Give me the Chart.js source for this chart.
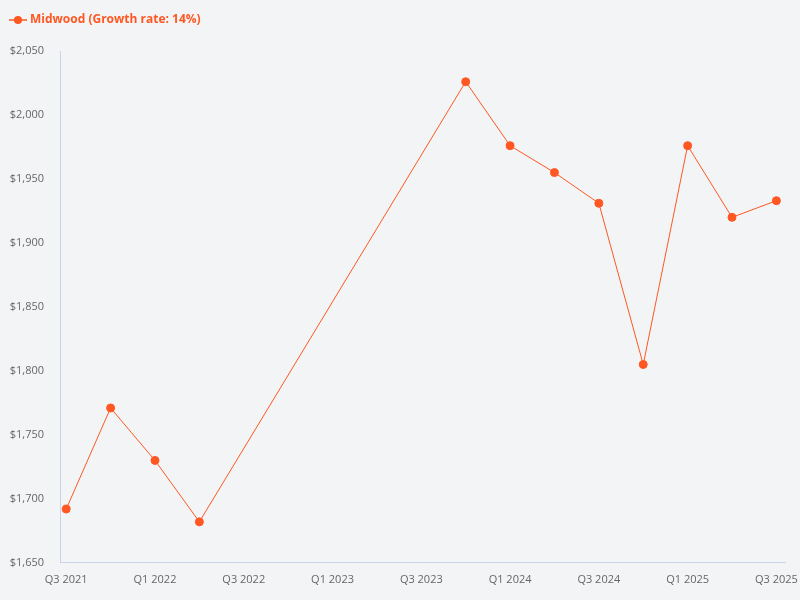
<!DOCTYPE html>
<html>
<head>
<meta charset="utf-8">
<script src="https://cdn.jsdelivr.net/npm/chart.js@4"></script>
<style>
    html, body { margin: 0; padding: 0; background: #f3f4f6; }
    #wrap { width: 800px; height: 600px; }
</style>
</head>
<body>
<div id="wrap"><canvas id="growth-chart"></canvas></div>
<script>
// Quarter labels for the whole span (x axis runs over these)
const quarters = [
    'Q3 2021', 'Q4 2021', 'Q1 2022', 'Q2 2022', 'Q3 2022', 'Q4 2022',
    'Q1 2023', 'Q2 2023', 'Q3 2023', 'Q4 2023', 'Q1 2024', 'Q2 2024',
    'Q3 2024', 'Q4 2024', 'Q1 2025', 'Q2 2025', 'Q3 2025'
];

// Quarters that actually have a value, and the values
const dataQuarters = [
    'Q3 2021', 'Q4 2021', 'Q1 2022', 'Q2 2022', 'Q4 2023', 'Q1 2024',
    'Q2 2024', 'Q3 2024', 'Q4 2024', 'Q1 2025', 'Q2 2025', 'Q3 2025'
];
const midwoodValues = [1692, 1771, 1730, 1682, 2026, 1976, 1955, 1931, 1805, 1976, 1920, 1933];

const seriesLabel = 'Midwood (Growth rate: 14%)';
const lineColor = '#ff5722';

// Legend marker: a short line with a dot through it
function makeLegendMarker() {
    const c = document.createElement('canvas');
    c.width = 18;
    c.height = 10;
    const g = c.getContext('2d');
    g.strokeStyle = lineColor;
    g.lineWidth = 1.5;
    g.beginPath();
    g.moveTo(0, 5);
    g.lineTo(18, 5);
    g.stroke();
    g.fillStyle = lineColor;
    g.beginPath();
    g.arc(9, 5, 4, 0, Math.PI * 2);
    g.fill();
    return c;
}

// Extra room under the legend
const legendGap = {
    id: 'legendGap',
    beforeInit(chart) {
        const fit = chart.legend.fit;
        chart.legend.fit = function () {
            fit.call(this);
            this.height += 15;
        };
    }
};

const points = dataQuarters.map((q, i) => ({ x: quarters.indexOf(q), y: midwoodValues[i] }));

const ctx = document.getElementById('growth-chart').getContext('2d');
const marker = makeLegendMarker();

new Chart(ctx, {
    type: 'line',
    data: {
        datasets: [{
            label: seriesLabel,
            data: points,
            borderColor: lineColor,
            backgroundColor: lineColor,
            borderWidth: 1,
            pointRadius: 4,
            pointHoverRadius: 5,
            tension: 0
        }]
    },
    options: {
        responsive: true,
        maintainAspectRatio: false,
        animation: false,
        layout: { padding: { left: 0, right: 14, top: 2, bottom: 12 } },
        plugins: {
            legend: {
                position: 'top',
                align: 'start',
                labels: {
                    usePointStyle: true,
                    color: lineColor,
                    font: { family: 'Open Sans', size: 12, weight: 'bold' },
                    padding: 12,
                    generateLabels: (chart) => chart.data.datasets.map((ds, i) => ({
                        text: ds.label,
                        fontColor: lineColor,
                        pointStyle: marker,
                        datasetIndex: i,
                        hidden: false,
                        lineWidth: 0
                    }))
                }
            },
            tooltip: { enabled: false }
        },
        scales: {
            x: {
                type: 'linear',
                min: -0.14,
                max: 16.2,
                grid: { display: false },
                border: { color: '#c9d5e6', width: 1 },
                afterBuildTicks: (axis) => {
                    axis.ticks = quarters.map((q, i) => ({ value: i })).filter(t => t.value % 2 === 0);
                },
                ticks: {
                    color: '#666',
                    font: { family: 'Open Sans', size: 11 },
                    maxRotation: 0,
                    autoSkip: false,
                    padding: 2,
                    callback: (value) => quarters[value]
                }
            },
            y: {
                min: 1650,
                max: 2050,
                grid: { display: false },
                border: { color: '#c9d5e6', width: 1 },
                afterFit: (axis) => { axis.width = 60; },
                ticks: {
                    stepSize: 50,
                    color: '#666',
                    font: { family: 'Open Sans', size: 11 },
                    padding: 8,
                    callback: (value) => '$' + value.toLocaleString('en-US')
                }
            }
        }
    },
    plugins: [legendGap]
});
</script>
</body>
</html>
